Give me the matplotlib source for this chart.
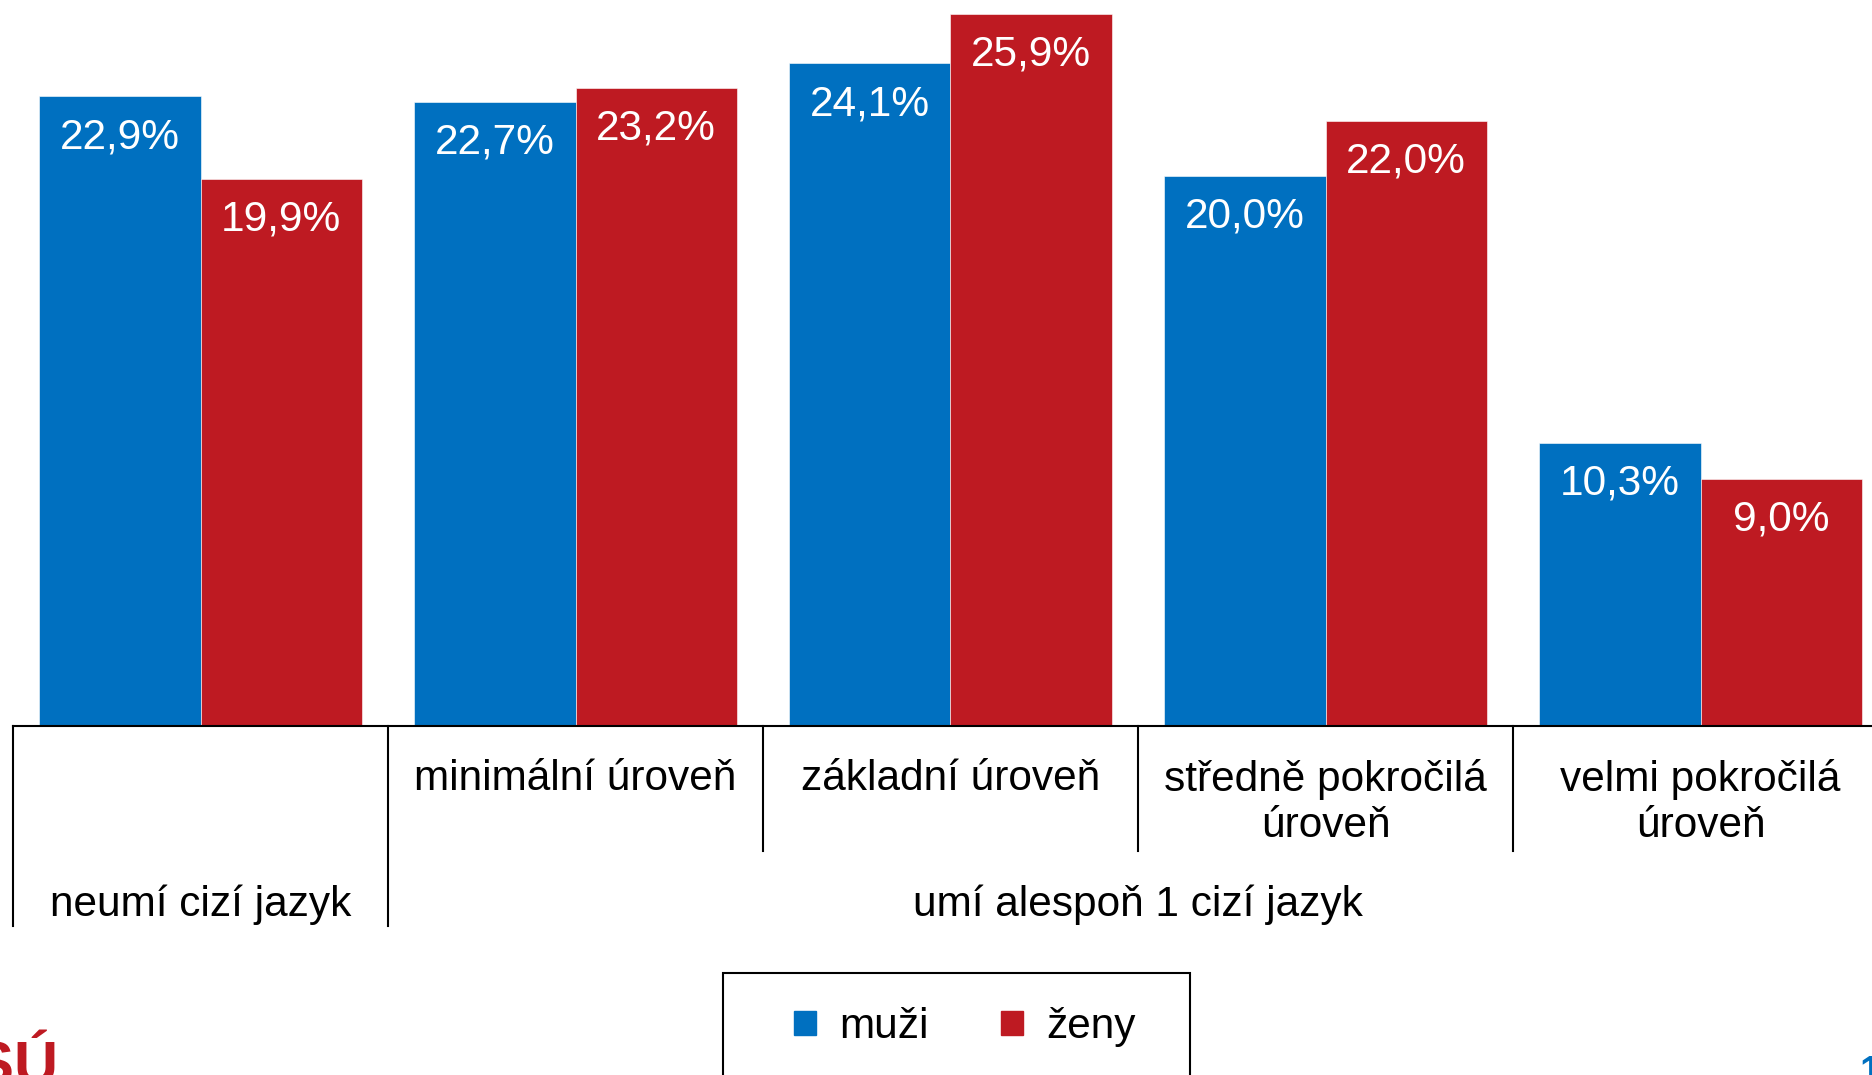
import matplotlib
matplotlib.use('Agg')
import matplotlib.pyplot as plt
from matplotlib.patches import Patch, Rectangle
import numpy as np

plt.rcParams['font.family'] = ['Liberation Sans', 'DejaVu Sans']

# data
urovne = ['', 'minimální úroveň', 'základní úroveň',
          'středně pokročilá\núroveň', 'velmi pokročilá\núroveň']
skupiny = ['neumí cizí jazyk', 'umí alespoň 1 cizí jazyk']
muzi = [22.9, 22.7, 24.1, 20.0, 10.3]
zeny = [19.9, 23.2, 25.9, 22.0, 9.0]

modra = '#0070C0'
cervena = '#BE1A22'

W, H = 1872, 1075
fig = plt.figure(figsize=(W/100, H/100), dpi=100)
# osa: baseline ve y=726 px, x od 13 px do 1888 px
ax = fig.add_axes([13/W, 1 - 726/H, 1875/W, 726/H])

x = np.arange(len(muzi))
bw = 0.43
b1 = ax.bar(x - bw/2, muzi, bw, color=modra, edgecolor='white', linewidth=0.4)
b2 = ax.bar(x + bw/2, zeny, bw, color=cervena, edgecolor='white', linewidth=0.4)

fs = 30.5
for bars, vals in ((b1, muzi), (b2, zeny)):
    for r, v in zip(bars, vals):
        ax.annotate(f'{v:.1f}%'.replace('.', ','),
                    (r.get_x() + r.get_width()/2, r.get_height()),
                    xytext=(0, -29.5), textcoords='offset points',
                    ha='center', va='center', color='white', fontsize=fs)

ax.set_xlim(-0.5, 4.5)
ax.set_ylim(0, 726/27.5)
for s in ['top', 'right', 'left']:
    ax.spines[s].set_visible(False)
ax.spines['bottom'].set_linewidth(1.5)
ax.set_xticks([])
ax.set_yticks([])

tr = ax.get_xaxis_transform()
h_ax = 726.0
# oddelovace kategorii pod osou
for i in range(len(urovne) + 1):
    dolni = -200/h_ax if i in (0, 1, len(urovne)) else -125/h_ax
    ax.plot([i - 0.5, i - 0.5], [0, dolni], color='black', lw=1.5,
            transform=tr, clip_on=False)

for i, t in enumerate(urovne):
    ax.text(i, -33/h_ax, t, transform=tr, ha='center', va='top',
            fontsize=fs, linespacing=1.2)

ax.text(0, -179/h_ax, skupiny[0], transform=tr, ha='center', va='center', fontsize=fs)
ax.text(np.mean(x[1:]), -179/h_ax, skupiny[1], transform=tr, ha='center',
        va='center', fontsize=fs)

# legenda
fig.patches.append(Rectangle((723/W, -0.05), 467/W, 0.05 + (H - 973)/H,
                             transform=fig.transFigure, fill=False,
                             edgecolor='black', lw=1.5))
handles = [Patch(color=modra, label='muži'), Patch(color=cervena, label='ženy')]
fig.legend(handles=handles, loc='center', bbox_to_anchor=(965/W, 1 - 1027/H),
           ncol=2, frameon=False, fontsize=fs, handlelength=0.52,
           handleheight=0.52, handletextpad=0.55, columnspacing=1.7)

# logo a cislo strany (oriznute jako v predloze)
fig.text(59/W, -8/H, 'ČSÚ', color=cervena, fontsize=44, fontweight='bold',
         ha='right', va='baseline')
fig.text(1860/W, 1 - 1055/H, '1', color=modra, fontsize=28, fontweight='bold',
         ha='left', va='top')

fig.savefig('out.png', dpi=100)
